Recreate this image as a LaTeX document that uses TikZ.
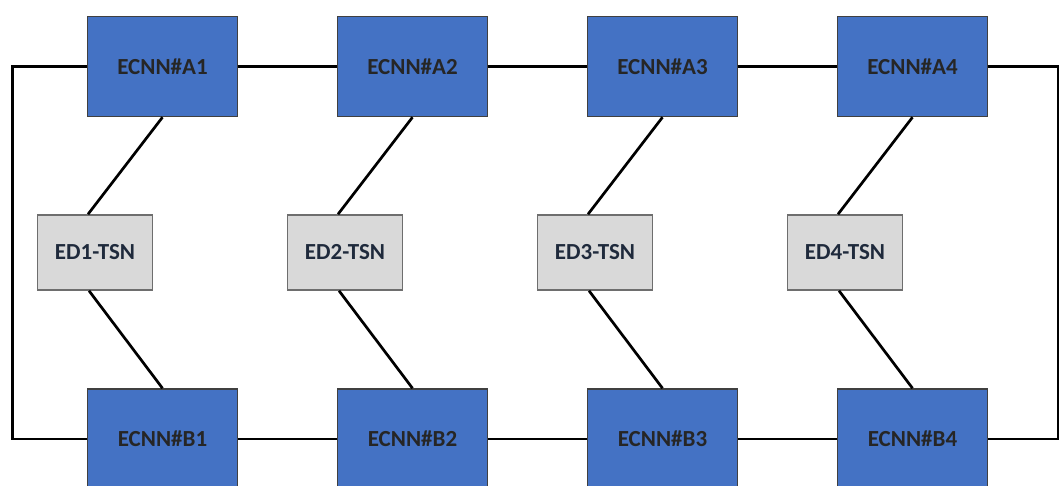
\documentclass[tikz,border=0pt]{standalone}
\usepackage{fontspec}
\newfontfamily\boxfont{Carlito}
\definecolor{ecblue}{HTML}{4472C4}
\definecolor{ectext}{HTML}{262626}
\definecolor{edfill}{HTML}{D9D9D9}
\definecolor{edline}{HTML}{6E6E6E}
\definecolor{edtext}{HTML}{1F2A3C}
\begin{document}
\begin{tikzpicture}[x=1pt,y=-1pt,
  ecnn/.style={draw=black!75, line width=1.5pt, fill=ecblue, minimum width=150pt,
    minimum height=100pt, inner sep=0pt, text=ectext,
    font=\boxfont\bfseries\fontsize{23}{26}\selectfont},
  edbox/.style={draw=edline, line width=1.5pt, fill=edfill, minimum width=115pt,
    minimum height=75pt, inner sep=0pt, text=edtext,
    font=\boxfont\bfseries\fontsize{23}{26}\selectfont},
  link/.style={draw=black, line width=2.7pt}]
\useasboundingbox (0,0) rectangle (1059,486);

% ring nodes (row A and row B) and end devices
\foreach \i in {1,2,3,4}{
  \node[ecnn] (A\i) at ({162.5+250*(\i-1)},66.5) {ECNN\#A\i};
  \node[ecnn] (B\i) at ({162.5+250*(\i-1)},439) {ECNN\#B\i};
  \node[edbox] (E\i) at ({95+250*(\i-1)},252.5) {ED\i-TSN};
}

% ring closure corners
\coordinate (L) at (12.5,250);
\coordinate (R) at (1058,250);

% horizontal links
\foreach \i/\j in {1/2,2/3,3/4}{
  \draw[link] (A\i.east) -- (A\j.west);
  \draw[link] (B\i.east) -- (B\j.west);
}
\draw[link] (A1.west) -| (L) |- (B1.west);
\draw[link] (A4.east) -| (R) |- (B4.east);

% dual-homed end devices
\foreach \i in {1,2,3,4}{
  \draw[link] (A\i.south) -- ([xshift=-7pt]E\i.north);
  \draw[link] ([xshift=-6pt]E\i.south) -- (B\i.north);
}
\end{tikzpicture}
\end{document}
